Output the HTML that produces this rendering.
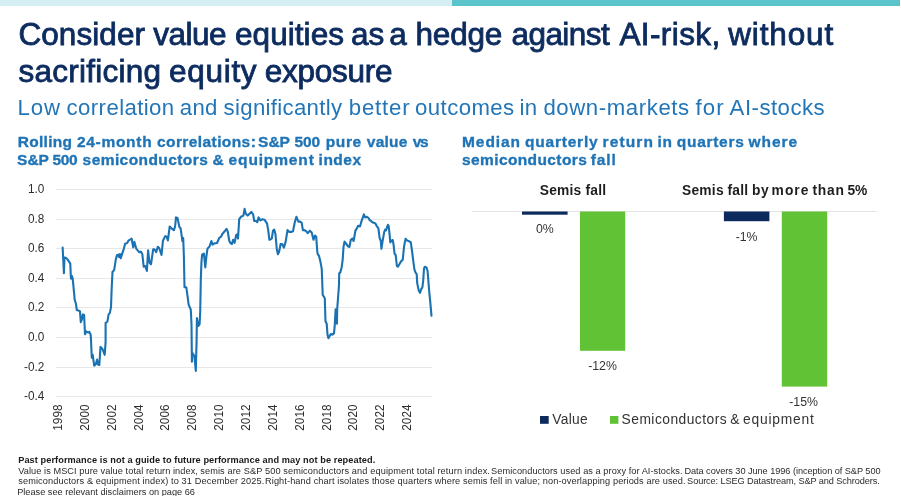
<!DOCTYPE html>
<html><head><meta charset="utf-8"><style>
html,body{margin:0;padding:0;background:#fff;}
body{width:901px;height:496px;position:relative;overflow:hidden;font-family:"Liberation Sans", Arial, sans-serif;}
svg{position:absolute;left:0;top:0;}
text{font-family:"Liberation Sans", Arial, sans-serif;white-space:pre;}
</style></head><body>
<svg width="901" height="496" viewBox="0 0 901 496">
<rect x="0" y="0" width="452" height="6" fill="#d4eef2"/>
<rect x="452" y="0" width="448" height="6" fill="#5bc4ca"/>
<text x="18.40" y="45" font-size="31.5" font-weight="400" fill="#0c2b5e" textLength="126.60" lengthAdjust="spacing" stroke="#0c2b5e" stroke-width="0.85">Consider</text>
<text x="153.20" y="45" font-size="31.5" font-weight="400" fill="#0c2b5e" textLength="73.40" lengthAdjust="spacing" stroke="#0c2b5e" stroke-width="0.85">value</text>
<text x="235.00" y="45" font-size="31.5" font-weight="400" fill="#0c2b5e" textLength="109.00" lengthAdjust="spacing" stroke="#0c2b5e" stroke-width="0.85">equities</text>
<text x="351.00" y="45" font-size="31.5" font-weight="400" fill="#0c2b5e" stroke="#0c2b5e" stroke-width="0.85">as</text>
<text x="389.15" y="45" font-size="31.5" font-weight="400" fill="#0c2b5e" stroke="#0c2b5e" stroke-width="0.85">a</text>
<text x="415.40" y="45" font-size="31.5" font-weight="400" fill="#0c2b5e" textLength="87.00" lengthAdjust="spacing" stroke="#0c2b5e" stroke-width="0.85">hedge</text>
<text x="511.40" y="45" font-size="31.5" font-weight="400" fill="#0c2b5e" textLength="98.40" lengthAdjust="spacing" stroke="#0c2b5e" stroke-width="0.85">against</text>
<text x="619.40" y="45" font-size="31.5" font-weight="400" fill="#0c2b5e" textLength="100.80" lengthAdjust="spacing" stroke="#0c2b5e" stroke-width="0.85">AI-risk,</text>
<text x="728.20" y="45" font-size="31.5" font-weight="400" fill="#0c2b5e" textLength="105.00" lengthAdjust="spacing" stroke="#0c2b5e" stroke-width="0.85">without</text>
<text x="18.40" y="82.3" font-size="31.5" font-weight="400" fill="#0c2b5e" textLength="142.60" lengthAdjust="spacing" stroke="#0c2b5e" stroke-width="0.85">sacrificing</text>
<text x="169.00" y="82.3" font-size="31.5" font-weight="400" fill="#0c2b5e" textLength="87.60" lengthAdjust="spacing" stroke="#0c2b5e" stroke-width="0.85">equity</text>
<text x="264.80" y="82.3" font-size="31.5" font-weight="400" fill="#0c2b5e" textLength="127.80" lengthAdjust="spacing" stroke="#0c2b5e" stroke-width="0.85">exposure</text>
<text x="17.40" y="114.8" font-size="22.2" font-weight="400" fill="#2276b8" textLength="42.60" lengthAdjust="spacing" >Low</text>
<text x="66.60" y="114.8" font-size="22.2" font-weight="400" fill="#2276b8" textLength="107.60" lengthAdjust="spacing" >correlation</text>
<text x="179.80" y="114.8" font-size="22.2" font-weight="400" fill="#2276b8" textLength="37.60" lengthAdjust="spacing" >and</text>
<text x="223.60" y="114.8" font-size="22.2" font-weight="400" fill="#2276b8" textLength="118.40" lengthAdjust="spacing" >significantly</text>
<text x="348.80" y="114.8" font-size="22.2" font-weight="400" fill="#2276b8" textLength="60.80" lengthAdjust="spacing" >better</text>
<text x="415.00" y="114.8" font-size="22.2" font-weight="400" fill="#2276b8" textLength="99.20" lengthAdjust="spacing" >outcomes</text>
<text x="519.60" y="114.8" font-size="22.2" font-weight="400" fill="#2276b8" textLength="17.40" lengthAdjust="spacing" >in</text>
<text x="543.40" y="114.8" font-size="22.2" font-weight="400" fill="#2276b8" textLength="145.80" lengthAdjust="spacing" >down-markets</text>
<text x="695.40" y="114.8" font-size="22.2" font-weight="400" fill="#2276b8" textLength="28.20" lengthAdjust="spacing" >for</text>
<text x="729.60" y="114.8" font-size="22.2" font-weight="400" fill="#2276b8" textLength="95.00" lengthAdjust="spacing" >AI-stocks</text>
<text x="17.80" y="146.6" font-size="15.5" font-weight="700" fill="#1f74b6" textLength="54.20" lengthAdjust="spacing" stroke="#1f74b6" stroke-width="0.35">Rolling</text>
<text x="77.00" y="146.6" font-size="15.5" font-weight="700" fill="#1f74b6" textLength="74.60" lengthAdjust="spacing" stroke="#1f74b6" stroke-width="0.35">24-month</text>
<text x="157.00" y="146.6" font-size="15.5" font-weight="700" fill="#1f74b6" textLength="98.80" lengthAdjust="spacing" stroke="#1f74b6" stroke-width="0.35">correlations:</text>
<text x="258.05" y="146.6" font-size="15.5" font-weight="700" fill="#1f74b6" stroke="#1f74b6" stroke-width="0.35">S&amp;P</text>
<text x="294.40" y="146.6" font-size="15.5" font-weight="700" fill="#1f74b6" textLength="25.60" lengthAdjust="spacing" stroke="#1f74b6" stroke-width="0.35">500</text>
<text x="325.80" y="146.6" font-size="15.5" font-weight="700" fill="#1f74b6" textLength="35.40" lengthAdjust="spacing" stroke="#1f74b6" stroke-width="0.35">pure</text>
<text x="366.80" y="146.6" font-size="15.5" font-weight="700" fill="#1f74b6" textLength="40.60" lengthAdjust="spacing" stroke="#1f74b6" stroke-width="0.35">value</text>
<text x="412.80" y="146.6" font-size="15.5" font-weight="700" fill="#1f74b6" textLength="15.80" lengthAdjust="spacing" stroke="#1f74b6" stroke-width="0.35">vs</text>
<text x="462.00" y="146.6" font-size="15.5" font-weight="700" fill="#1f74b6" textLength="58.00" lengthAdjust="spacing" stroke="#1f74b6" stroke-width="0.35">Median</text>
<text x="525.00" y="146.6" font-size="15.5" font-weight="700" fill="#1f74b6" textLength="72.60" lengthAdjust="spacing" stroke="#1f74b6" stroke-width="0.35">quarterly</text>
<text x="602.60" y="146.6" font-size="15.5" font-weight="700" fill="#1f74b6" textLength="50.40" lengthAdjust="spacing" stroke="#1f74b6" stroke-width="0.35">return</text>
<text x="657.60" y="146.6" font-size="15.5" font-weight="700" fill="#1f74b6" textLength="14.40" lengthAdjust="spacing" stroke="#1f74b6" stroke-width="0.35">in</text>
<text x="676.80" y="146.6" font-size="15.5" font-weight="700" fill="#1f74b6" textLength="67.00" lengthAdjust="spacing" stroke="#1f74b6" stroke-width="0.35">quarters</text>
<text x="748.60" y="146.6" font-size="15.5" font-weight="700" fill="#1f74b6" textLength="48.60" lengthAdjust="spacing" stroke="#1f74b6" stroke-width="0.35">where</text>
<text x="17.05" y="165.3" font-size="15.5" font-weight="700" fill="#1f74b6" stroke="#1f74b6" stroke-width="0.35">S&amp;P</text>
<text x="52.60" y="165.3" font-size="15.5" font-weight="700" fill="#1f74b6" textLength="25.00" lengthAdjust="spacing" stroke="#1f74b6" stroke-width="0.35">500</text>
<text x="82.60" y="165.3" font-size="15.5" font-weight="700" fill="#1f74b6" textLength="125.20" lengthAdjust="spacing" stroke="#1f74b6" stroke-width="0.35">semiconductors</text>
<text x="212.40" y="165.3" font-size="15.5" font-weight="700" fill="#1f74b6" stroke="#1f74b6" stroke-width="0.35">&amp;</text>
<text x="228.60" y="165.3" font-size="15.5" font-weight="700" fill="#1f74b6" textLength="85.20" lengthAdjust="spacing" stroke="#1f74b6" stroke-width="0.35">equipment</text>
<text x="318.60" y="165.3" font-size="15.5" font-weight="700" fill="#1f74b6" textLength="42.40" lengthAdjust="spacing" stroke="#1f74b6" stroke-width="0.35">index</text>
<text x="462.00" y="165.3" font-size="15.5" font-weight="700" fill="#1f74b6" textLength="124.80" lengthAdjust="spacing" stroke="#1f74b6" stroke-width="0.35">semiconductors</text>
<text x="590.80" y="165.3" font-size="15.5" font-weight="700" fill="#1f74b6" textLength="25.00" lengthAdjust="spacing" stroke="#1f74b6" stroke-width="0.35">fall</text>
<text x="18.20" y="463.2" font-size="9.2" font-weight="700" fill="#1a1a1a" textLength="357.10" lengthAdjust="spacing" >Past performance is not a guide to future performance and may not be repeated.</text>
<text x="18.20" y="473.8" font-size="9.2" font-weight="400" fill="#2a2a2a" textLength="179.70" lengthAdjust="spacing" >Value is MSCI pure value total return index,</text>
<text x="200.20" y="473.8" font-size="9.2" font-weight="400" fill="#2a2a2a" textLength="289.70" lengthAdjust="spacing" >semis are S&amp;P 500 semiconductors and equipment total return index.</text>
<text x="491.10" y="473.8" font-size="9.2" font-weight="400" fill="#2a2a2a" textLength="191.40" lengthAdjust="spacing" >Semiconductors used as a proxy for AI-stocks.</text>
<text x="684.40" y="473.8" font-size="9.2" font-weight="400" fill="#2a2a2a" textLength="196.20" lengthAdjust="spacing" >Data covers 30 June 1996 (inception of S&amp;P 500</text>
<text x="18.20" y="484.4" font-size="9.2" font-weight="400" fill="#2a2a2a" textLength="246.10" lengthAdjust="spacing" >semiconductors &amp; equipment index) to 31 December 2025.</text>
<text x="265.00" y="484.4" font-size="9.2" font-weight="400" fill="#2a2a2a" textLength="420.60" lengthAdjust="spacing" >Right-hand chart isolates those quarters where semis fell in value; non-overlapping periods are used.</text>
<text x="687.10" y="484.4" font-size="9.2" font-weight="400" fill="#2a2a2a" textLength="192.70" lengthAdjust="spacing" >Source: LSEG Datastream, S&amp;P and Schroders.</text>
<text x="17.20" y="494.6" font-size="9.2" font-weight="400" fill="#2a2a2a" textLength="177.70" lengthAdjust="spacing" >Please see relevant disclaimers on page 66</text>
<text x="539.80" y="195" font-size="13.8" font-weight="700" fill="#1e1e1e" textLength="66.20" lengthAdjust="spacing" >Semis fall</text>
<text x="682.00" y="195" font-size="13.8" font-weight="700" fill="#1e1e1e" textLength="41.60" lengthAdjust="spacing" >Semis</text>
<text x="727.60" y="195" font-size="13.8" font-weight="700" fill="#1e1e1e" textLength="20.40" lengthAdjust="spacing" >fall</text>
<text x="752.00" y="195" font-size="13.8" font-weight="700" fill="#1e1e1e" textLength="16.80" lengthAdjust="spacing" >by</text>
<text x="771.60" y="195" font-size="13.8" font-weight="700" fill="#1e1e1e" textLength="36.80" lengthAdjust="spacing" >more</text>
<text x="812.40" y="195" font-size="13.8" font-weight="700" fill="#1e1e1e" textLength="31.60" lengthAdjust="spacing" >than</text>
<text x="847.60" y="195" font-size="13.8" font-weight="700" fill="#1e1e1e" textLength="19.60" lengthAdjust="spacing" >5%</text>
<text x="552.20" y="423.7" font-size="13.8" font-weight="400" fill="#333333" textLength="35.60" lengthAdjust="spacing" >Value</text>
<text x="621.60" y="423.7" font-size="13.8" font-weight="400" fill="#333333" textLength="105.00" lengthAdjust="spacing" >Semiconductors</text>
<text x="730.25" y="423.7" font-size="13.8" font-weight="400" fill="#333333" >&amp;</text>
<text x="743.00" y="423.7" font-size="13.8" font-weight="400" fill="#333333" textLength="70.80" lengthAdjust="spacing" >equipment</text>

<g stroke="#e7e7e7" stroke-width="1"><line x1="56" y1="189.5" x2="432" y2="189.5"/><line x1="56" y1="219.5" x2="432" y2="219.5"/><line x1="56" y1="248.5" x2="432" y2="248.5"/><line x1="56" y1="278.5" x2="432" y2="278.5"/><line x1="56" y1="307.5" x2="432" y2="307.5"/><line x1="56" y1="337.5" x2="432" y2="337.5"/><line x1="56" y1="367.5" x2="432" y2="367.5"/><line x1="56" y1="396.5" x2="432" y2="396.5"/></g>
<g font-size="11.8" fill="#2e2e2e" text-anchor="end"><text transform="translate(44.3,188.5) scale(1,1.08)" y="4.25">1.0</text><text transform="translate(44.3,218.5) scale(1,1.08)" y="4.25">0.8</text><text transform="translate(44.3,247.5) scale(1,1.08)" y="4.25">0.6</text><text transform="translate(44.3,277.5) scale(1,1.08)" y="4.25">0.4</text><text transform="translate(44.3,306.5) scale(1,1.08)" y="4.25">0.2</text><text transform="translate(44.3,336.5) scale(1,1.08)" y="4.25">0.0</text><text transform="translate(44.3,366.5) scale(1,1.08)" y="4.25">-0.2</text><text transform="translate(44.3,395.5) scale(1,1.08)" y="4.25">-0.4</text></g>
<g font-size="11.8" fill="#2e2e2e" text-anchor="end"><text transform="translate(57.50,404.5) rotate(-90) scale(1,1.1)" dy="4.2">1998</text><text transform="translate(84.34,404.5) rotate(-90) scale(1,1.1)" dy="4.2">2000</text><text transform="translate(111.18,404.5) rotate(-90) scale(1,1.1)" dy="4.2">2002</text><text transform="translate(138.02,404.5) rotate(-90) scale(1,1.1)" dy="4.2">2004</text><text transform="translate(164.86,404.5) rotate(-90) scale(1,1.1)" dy="4.2">2006</text><text transform="translate(191.70,404.5) rotate(-90) scale(1,1.1)" dy="4.2">2008</text><text transform="translate(218.54,404.5) rotate(-90) scale(1,1.1)" dy="4.2">2010</text><text transform="translate(245.38,404.5) rotate(-90) scale(1,1.1)" dy="4.2">2012</text><text transform="translate(272.22,404.5) rotate(-90) scale(1,1.1)" dy="4.2">2014</text><text transform="translate(299.06,404.5) rotate(-90) scale(1,1.1)" dy="4.2">2016</text><text transform="translate(325.90,404.5) rotate(-90) scale(1,1.1)" dy="4.2">2018</text><text transform="translate(352.74,404.5) rotate(-90) scale(1,1.1)" dy="4.2">2020</text><text transform="translate(379.58,404.5) rotate(-90) scale(1,1.1)" dy="4.2">2022</text><text transform="translate(406.42,404.5) rotate(-90) scale(1,1.1)" dy="4.2">2024</text></g>
<path d="M62.65,247.5 L63.9,273.3 L64.5,257.5 L66.3,258.1 L67.5,259.4 L70.3,263.6 L70.8,276.3 L71.1,278.7 L71.7,275.7 L72.7,278.7 L74.1,293.2 L74.7,299.8 L76,304 L76.8,310.1 L79,310.7 L80,311.3 L80.8,322.2 L82,319.2 L82.9,314.4 L84.1,315 L85,334.3 L86.2,331.3 L88,332.5 L89.3,331.9 L90.5,334.3 L90.8,336 L91.8,357.8 L92.7,354.8 L94.2,365.7 L95.7,364.5 L97.1,359.6 L98.1,364.5 L99.3,365.1 L100.5,346.9 L102.3,348.7 L104.7,354.8 L105.6,342.1 L105.6,322.8 L107.4,321.6 L108.6,314.4 L109.8,313.1 L111,307.1 L111.6,290 L112.5,272 L114.2,269.8 L115.7,260.1 L116.9,255.2 L118.1,254.6 L119.1,257.1 L119.9,254 L120.8,258.3 L122.3,253.4 L123.9,248.6 L125.1,243.7 L127.2,243.1 L128.4,240.7 L130.2,239.5 L131.6,238.5 L133.2,247.4 L134.4,241.9 L136.2,248.6 L137.7,250.4 L139.3,252.2 L140.8,251.6 L142.3,254 L143.7,266.7 L145.3,266.1 L146.9,271 L148.1,250.4 L149.5,262.5 L151,264.3 L153.2,249.2 L154.4,249.2 L156.2,252.2 L157.8,246.8 L159.2,248 L161.5,255 L163,240.4 L165.4,236.1 L166.7,236.7 L167.9,240.4 L169.7,226.5 L171.5,228.3 L173.9,230.1 L175.1,226.5 L176,217.4 L177.5,218 L179.4,227.1 L180.6,228.3 L181.8,236.7 L182.4,241 L183.2,238 L183.9,257.1 L184.5,287.3 L186.3,287.3 L187.5,295.8 L188.7,304.8 L190.8,309.7 L191.5,324.2 L191.9,361.8 L192.3,352.9 L194.4,356.1 L195.8,371 L196.6,340 L196.9,318.1 L198.4,326 L199.6,324.2 L200.2,312 L200.8,280 L201.4,263 L202.1,254.7 L203.9,253.5 L205.3,267.4 L206.3,257.1 L207.5,248.6 L209.5,246.5 L211.4,241 L212.6,244.6 L214.4,243.4 L217,243 L219.2,238 L221,236.7 L222.5,233.7 L224.7,231.3 L226.5,228.9 L227.7,231.3 L229.3,241 L230.7,243.4 L231.9,244 L233.1,239.8 L234.6,242.8 L236.2,234.9 L237.4,234.3 L238,238.5 L239.2,219.2 L241,216.8 L243.4,215.6 L244.6,208.9 L245.8,213.7 L247.7,215.6 L249.5,213.7 L251.3,211.9 L253.1,214.4 L254.3,221 L256.1,221 L257.3,222.2 L258.5,217.4 L260.4,220.4 L262.4,219.2 L264.6,219.8 L267,223.4 L268.2,230.1 L269.4,239.8 L270.5,239.5 L271.8,238.5 L273,230.7 L274.2,229.5 L275.4,233.7 L276.7,248.2 L277.9,254.3 L279.1,251.9 L280.6,244 L282.1,244 L283.9,247.6 L285.7,241.6 L287.5,230.1 L289.4,231.9 L291.2,231.9 L293,231.3 L294.8,222.2 L296.4,216.8 L298.4,221.6 L300.2,221.6 L301.7,222.8 L302.9,230.1 L304.5,230.1 L306.3,231.3 L307.7,233.1 L309.9,230.7 L311.7,232.5 L313.5,239.8 L315,235.5 L316.2,236.7 L317.2,250.6 L317.6,254 L318.9,255.6 L320.5,262.1 L321.7,268.5 L322.1,278.2 L322.7,294.7 L324.8,298.3 L325.1,309.2 L325.5,321.3 L326.7,323.7 L327.5,334.6 L328.4,338.2 L329.4,336.4 L330.8,334 L332.4,334.6 L334,333.4 L334.8,324.9 L335.6,309.2 L336.9,323.7 L337.2,309.2 L338.1,297.1 L339,285 L339.2,273.4 L340.2,272.6 L341.6,267.7 L342.7,259.7 L343.5,247 L344.5,241.6 L346.3,244 L348.1,246.4 L349.4,247 L350.8,239.8 L352.4,238.5 L353.6,241 L355.4,230.7 L356.6,228.9 L358.1,225.8 L360,226.5 L361.2,222.2 L362.4,218.6 L363.9,214.4 L365.1,217.4 L366.9,216.8 L368.5,218 L369.9,220.4 L371.1,221 L372.3,222.2 L373.8,222.8 L375.4,223.4 L376.6,225.8 L378.4,228.3 L379.6,237.9 L380.8,241 L381.4,248.8 L382.6,241 L384.2,232.1 L385.1,229.7 L386,230.3 L387.9,224.8 L388.7,226 L389.7,235.7 L390.3,242.4 L391.5,240.6 L392.7,240 L393.5,244.2 L394.5,253.3 L395.7,255.1 L396.9,266 L397.9,266.6 L399.4,264.2 L401.2,261.1 L402.7,259.9 L404,247.2 L404.8,242.4 L405.6,238.7 L407.2,240.6 L409,241.2 L410.8,242.4 L412.1,251.5 L413.3,261.1 L414.5,269.8 L415.7,272.9 L416.7,274.1 L417.2,283.1 L418.7,290.4 L420,292.8 L421.2,289.2 L422.4,287.4 L423.2,280.7 L424,268.6 L424.8,266.8 L426.4,267.4 L427.6,271 L429,289.2 L430.2,301.3 L431.5,315.8" fill="none" stroke="#1b72b3" stroke-width="2.1" stroke-linejoin="round" stroke-linecap="round"/>
<line x1="472" y1="211.5" x2="876.5" y2="211.5" stroke="#e3e3e3" stroke-width="1"/>
<rect x="522" y="211.5" width="45.6" height="3.2" fill="#0c2a5c"/>
<rect x="580" y="211.5" width="45.2" height="139.3" fill="#62c236"/>
<rect x="723.9" y="211.5" width="45.5" height="9.7" fill="#0c2a5c"/>
<rect x="781.8" y="211.5" width="45.4" height="175.1" fill="#62c236"/>
<g font-size="12.3" fill="#333333" text-anchor="middle">
<text x="544.8" y="233.4">0%</text>
<text x="602.5" y="370.4">-12%</text>
<text x="746.6" y="241">-1%</text>
<text x="803.6" y="405.5">-15%</text>
</g>
<rect x="540" y="416" width="8.7" height="7.8" fill="#0c2a5c"/>
<rect x="610" y="416" width="8.4" height="7.8" fill="#62c236"/>
</svg>
</body></html>
